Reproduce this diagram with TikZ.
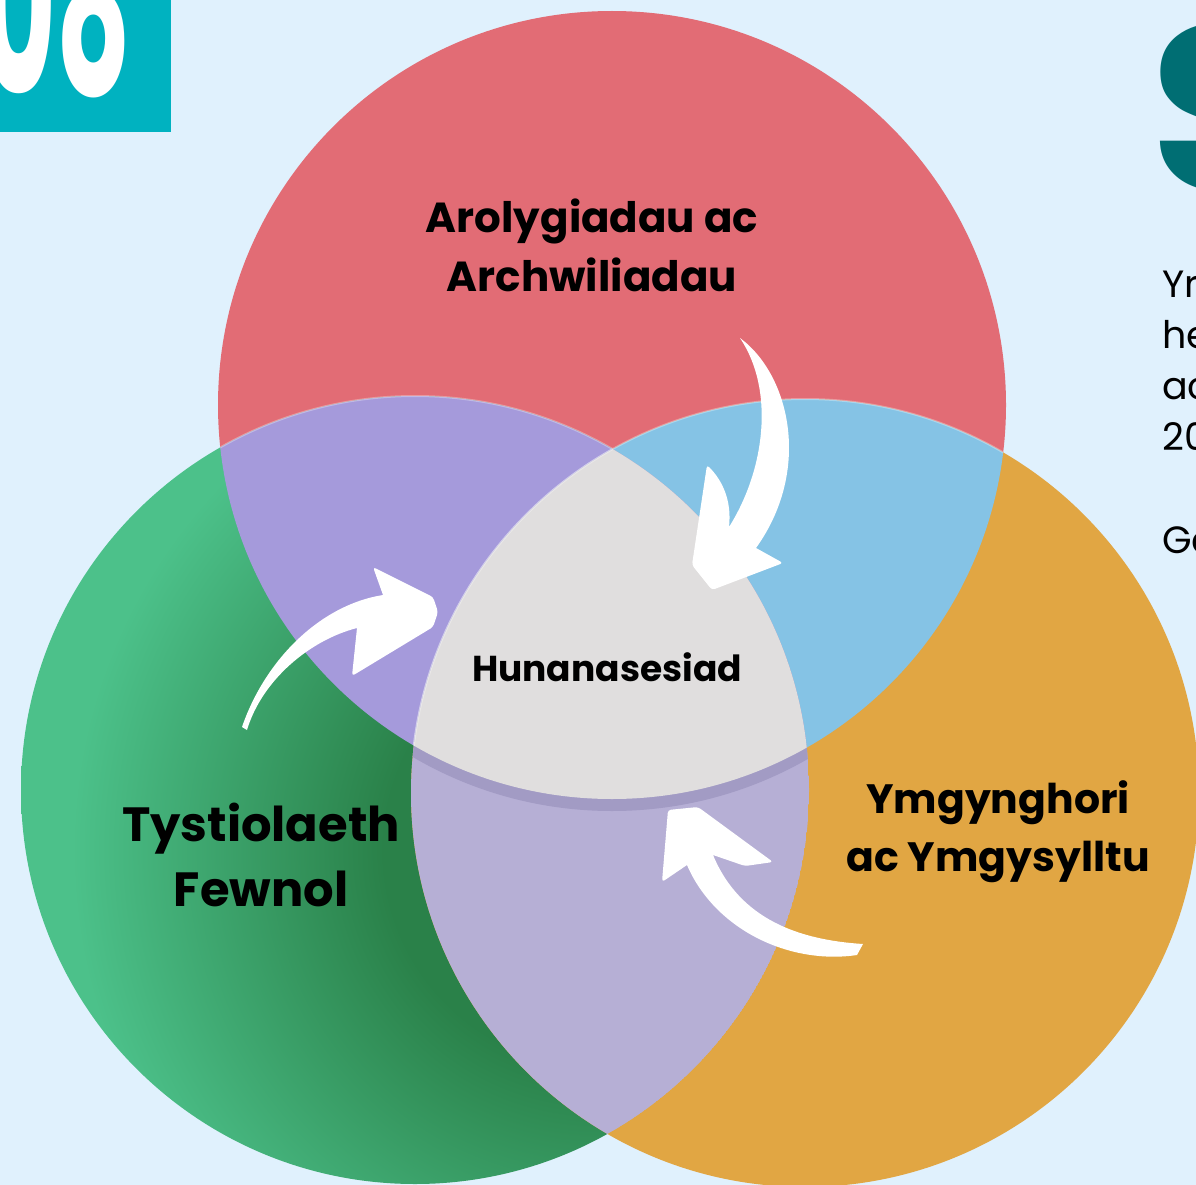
\documentclass[tikz,border=0pt]{standalone}
\usepackage{fontspec}
\setmainfont{Poppins}
\usepackage{xcolor}
\usetikzlibrary{positioning}
\definecolor{PageBlue}{HTML}{E0F1FD}
\definecolor{RoseRed}{HTML}{E26C75}
\definecolor{LeafGreen}{HTML}{4CC18A}
\definecolor{LeafDark}{HTML}{2A8149}
\definecolor{SunOrange}{HTML}{E1A643}
\definecolor{LilacPurple}{HTML}{A59ADB}
\definecolor{SkyBlue}{HTML}{85C3E5}
\definecolor{PaleLavender}{HTML}{B6AFD5}
\definecolor{LavenderShade}{HTML}{A29BC4}
\definecolor{CoreGrey}{HTML}{E0DEDE}
\definecolor{BadgeTeal}{HTML}{00B2C0}
\definecolor{DeepTeal}{HTML}{006E73}
\pgfdeclareradialshading{greenglow}{\pgfpoint{0bp}{0bp}}{color(0bp)=(LeafDark); color(9bp)=(LeafDark); color(22bp)=(LeafGreen); color(25bp)=(LeafGreen); color(50bp)=(LeafGreen)}

\begin{document}
\begin{tikzpicture}[x=1pt, y=-1pt,
  lbl/.style={font=\bfseries\fontsize{42}{59}\selectfont, align=center, text=black},
  wedge/.style={draw=white, draw opacity=0.3, line width=2pt},
  curlarrow/.style={fill=white}]
\fill[PageBlue] (0,0) rectangle (1196,1185);
\useasboundingbox (0,0) rectangle (1196,1185);

% the three circles
\coordinate (rc) at (612,405);
\coordinate (gc) at (415,790);
\coordinate (oc) at (805,793);
\def\rr{394}
\fill[RoseRed] (rc) circle (\rr);
\begin{scope}
  \clip (gc) circle (\rr);
  \shade[shading=greenglow] (600,850) circle (600);
\end{scope}
\fill[SunOrange] (oc) circle (\rr);

% overlaps
\begin{scope}
  \clip (rc) circle (\rr);
  \fill[LilacPurple, wedge] (gc) circle (\rr);
\end{scope}
\begin{scope}
  \clip (rc) circle (\rr);
  \fill[SkyBlue, wedge] (oc) circle (\rr);
\end{scope}
\begin{scope}
  \clip (gc) circle (\rr);
  \clip (oc) circle (\rr);
  \fill[PaleLavender] (gc) circle (\rr);
  % shadow under the centre piece
  \fill[LavenderShade] (612,417) circle (\rr);
\end{scope}
\begin{scope}
  \clip (rc) circle (\rr);
  \clip (gc) circle (\rr);
  \fill[CoreGrey, wedge] (oc) circle (\rr);
\end{scope}

% labels
\node[lbl] (insp) at (592,245) {Arolygiadau ac\\Archwiliadau};
\node[lbl, font=\bfseries\fontsize{48}{65}\selectfont] (evid) at (261,855) {Tystiolaeth\\Fewnol};
\node[lbl, font=\bfseries\fontsize{41}{58}\selectfont] (cons) at (998,832) {Ymgynghori\\ac Ymgysylltu};
\node[lbl, font=\bfseries\fontsize{36}{44}\selectfont] (self) at (607,667) {Hunanasesiad};

% curved arrows into the centre
\fill[curlarrow] (740,338) .. controls (790,375) and (812,470) .. (756,548)
  [rounded corners=3pt] -- (783,563) -- (712,590) -- (692,565) -- (707,465)
  [sharp corners] .. controls (722,480) and (732,500) .. (729,527)
  .. controls (765,470) and (775,390) .. cycle;
\fill[curlarrow] (242,727) .. controls (265,660) and (320,605) .. (383,595)
  [rounded corners=3pt] -- (373,567) -- (433,597) -- (438,612) -- (433,627) -- (352,676)
  [sharp corners] -- (357,628) .. controls (310,640) and (262,680) .. (247,730) -- cycle;
\fill[curlarrow] (863,944) .. controls (800,940) and (740,920) .. (713,855)
  [rounded corners=3pt] -- (745,866) -- (773,862) -- (698,807) -- (668,810) -- (662,882)
  [sharp corners] -- (687,865) .. controls (715,930) and (790,965) .. (857,955) -- cycle;

% page furniture cut by the edge
\fill[BadgeTeal] (0,0) rectangle (171,132);
\node[anchor=base east, text=white, inner sep=0pt, font=\bfseries\fontsize{250}{250}\selectfont] (badge) at (131,95) {\scalebox{0.46}[1]{08}};
\node[anchor=base west, text=DeepTeal, inner sep=0pt, font=\bfseries\fontsize{235}{235}\selectfont] (bigS) at (1150,190) {S};
\foreach \word/\yy in {Yr/297, he/348, ac/399, 20/450, Ge/553}
  \node[anchor=base west, inner sep=0pt, font=\fontsize{38}{51}\selectfont] (side-\yy) at (1162,\yy) {\word};
\end{tikzpicture}
\end{document}
